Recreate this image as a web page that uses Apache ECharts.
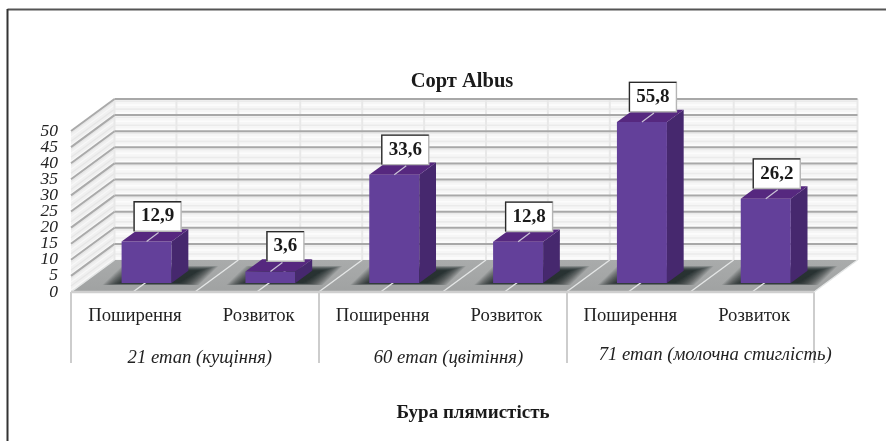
<!DOCTYPE html>
<html><head><meta charset="utf-8">
<style>html,body{margin:0;padding:0;background:#fff}#c{width:886px;height:441px}</style>
<script src="https://cdn.jsdelivr.net/npm/echarts@6/dist/echarts.min.js"></script>
</head><body><div id="c"></div>
<script>
const categories = ['Поширення','Розвиток','Поширення','Розвиток','Поширення','Розвиток'];
const stages = ['21 етап (кущіння)','60 етап (цвітіння)','71 етап (молочна стиглість)'];
const values = [12.9,3.6,33.6,12.8,55.8,26.2];
const valueLabels = ['12,9','3,6','33,6','12,8','55,8','26,2'];
const yTicks = [0,5,10,15,20,25,30,35,40,45,50];
const titleText = 'Сорт Albus';
const axisTitle = 'Бура плямистість';

const SERIF = '"Liberation Serif","Times New Roman",serif';
const DEPTH = [43.5,-32];           // full floor depth vector, px
const BAR_FRONT = 0.28, BAR_BACK = 0.665, BAR_W = 50, BAR_SHIFT = 1.5;
const AXIS_MAX = yTicks[yTicks.length-1];
const chart = echarts.init(document.getElementById('c'), null, {renderer:'canvas'});

function line(p,q,color,w){
  return {type:'line',shape:{x1:p[0],y1:p[1],x2:q[0],y2:q[1]},style:{stroke:color,lineWidth:w},silent:true};
}
function poly(pts,style){return {type:'polygon',shape:{points:pts},style:style,silent:true};}
function depth(p,d){return [p[0]+DEPTH[0]*d,p[1]+DEPTH[1]*d];}

function renderWalls(params,api){
  if(params.dataIndex!==0) return;
  const n=categories.length, kids=[];
  const A=(c,v)=>api.coord([c,v]);
  const band=api.size([1,0])[0];
  const L=v=>[A(0,v)[0]-band/2,A(0,v)[1]];
  const R=v=>[A(n-1,v)[0]+band/2,A(n-1,v)[1]];
  const top=AXIS_MAX;
  // walls
  kids.push(poly([L(0),L(top),depth(L(top),1),depth(L(0),1)],{fill:'#f0f0f0'}));
  kids.push(poly([depth(L(0),1),depth(L(top),1),depth(R(top),1),depth(R(0),1)],{fill:'#f6f6f6'}));
  // fine stripes on the walls
  for(let v=0;v<top;v+=1.25){
    const odd=(v/1.25)%2;
    kids.push(line(depth(L(v+0.6),1),depth(R(v+0.6),1),odd?'#ebebeb':'#fcfcfc',1.6));
    kids.push(line(L(v+0.6),depth(L(v+0.6),1),odd?'#e6e6e6':'#f8f8f8',1.2));
  }
  // vertical wall lines
  for(let i=0;i<=2*n;i++){
    const x=L(0)[0]+i*band/2;
    kids.push(line(depth([x,L(0)[1]],1),depth([x,L(top)[1]],1),'#e8e8e8',2));
  }
  // grid lines
  yTicks.slice(1).forEach(v=>{
    kids.push(line(L(v),depth(L(v),1),'#aaaaaa',2));
    kids.push(line(depth(L(v),1),depth(R(v),1),'#a8a8a8',2));
  });
  // floor
  kids.push(poly([L(0),R(0),depth(R(0),1),depth(L(0),1)],{
    fill:new echarts.graphic.LinearGradient(0,0,0,1,[{offset:0,color:'#a9abab'},{offset:1,color:'#a0a2a2'}])}));
  // soft shadows of the bars on the floor (stacked translucent layers)
  for(let i=0;i<n;i++){
    const c=A(i,0), cx=c[0]+BAR_SHIFT;
    for(let k=16;k>=0;k--){
      const ex=k*1.25, fy=k*0.13, by=k*0.3;
      const x0=cx-BAR_W/2+1-ex, x1=cx+BAR_W/2+7+ex;
      const a=depth([x0,c[1]+fy],BAR_FRONT), b=depth([x1,c[1]+fy],BAR_FRONT);
      const e=depth([x1+3,c[1]-by],BAR_BACK), f=depth([x0+3,c[1]-by],BAR_BACK);
      kids.push(poly([a,b,e,f],{fill:'rgba(15,18,18,0.085)'}));
    }
  }
  // floor lines
  for(let i=0;i<=2*n;i++){
    const x=L(0)[0]+i*band/2, p=[x,L(0)[1]];
    kids.push(line(p,depth(p,1),'#e4e6e6',1.4));
  }
  kids.push(line(L(0),R(0),'#cfcfcf',2.4));
  return {type:'group',children:kids};
}

function renderBar(params,api){
  const c=api.coord([api.value(0),0]);
  // bars are cut off at the top of the value axis
  const t=api.coord([api.value(0),Math.min(api.value(1),AXIS_MAX)]);
  const x0=c[0]-BAR_W/2+BAR_SHIFT, x1=c[0]+BAR_W/2+BAR_SHIFT;
  const fb=depth([x0,c[1]],BAR_FRONT), fr=depth([x1,c[1]],BAR_FRONT);
  const tl=depth([x0,t[1]],BAR_FRONT), tr=depth([x1,t[1]],BAR_FRONT);
  const s=BAR_BACK-BAR_FRONT;
  const btl=depth(tl,s), btr=depth(tr,s), bbr=depth(fr,s);
  const txt=valueLabels[params.dataIndex];
  const w=txt.length>3?47:37, h=29.5;
  const mid=[(tl[0]+tr[0])/2,tl[1]];
  const cx=mid[0]+(txt.length>3?11:15), cy=mid[1]-25;
  const bx=cx-w/2, by=cy-h/2;
  return {type:'group',children:[
    poly([fb,fr,tr,tl],{fill:'#63409a'}),
    poly([fr,bbr,btr,tr],{fill:'#46286e'}),
    poly([tl,tr,btr,btl],{fill:'#56287f'}),
    line(mid,[mid[0]+12,mid[1]-9],'#c9c3d6',1.2),
    {type:'rect',shape:{x:bx,y:by,width:w,height:h},style:{fill:'#fff',stroke:'#b5b5b5',lineWidth:1.4},silent:true},
    {type:'polyline',shape:{points:[[bx,by+h],[bx,by],[bx+w,by]]},style:{fill:'none',stroke:'#2a2a2a',lineWidth:1.3},silent:true},
    {type:'text',style:{x:cx,y:cy,text:txt,align:'center',verticalAlign:'middle',
      font:'bold 19px '+SERIF,fill:'#1a1a1a'},silent:true}
  ]};
}

const labelFont = {fontFamily:SERIF,fontSize:18.7,color:'#222'};
const stageFont = {fontFamily:SERIF,fontStyle:'italic',fontSize:18.7,color:'#222'};
const tickFont = {fontFamily:SERIF,fontStyle:'italic',fontSize:17.5,color:'#222'};
// two overlaid value axes with alternating ticks, so that no tick label is dropped as overlapping
const yAxisWith = ticks => ({type:'value',min:0,max:AXIS_MAX,interval:5,position:'left',
  axisLine:{show:false},axisTick:{show:false},splitLine:{show:false},
  axisLabel:{margin:13,...tickFont,customValues:ticks,showMinLabel:true,showMaxLabel:true}});
chart.setOption({
  animation:false,
  backgroundColor:'#fff',
  title:[
    {text:titleText,left:457,top:66,textAlign:'center',textStyle:{fontFamily:SERIF,fontWeight:'bold',fontSize:20.5,color:'#1a1a1a'}},
    {text:axisTitle,left:468,top:399,textAlign:'center',textStyle:{fontFamily:SERIF,fontWeight:'bold',fontSize:19,color:'#1a1a1a'}}
  ],
  grid:{left:71,top:131,width:743,height:161,containLabel:false},
  xAxis:[
    {type:'category',data:categories,position:'bottom',axisLine:{show:false},axisTick:{show:false},
     axisLabel:{interval:0,margin:15,...labelFont,
       formatter:v=>'{a|'+v+'}',rich:{a:{padding:[0,0,0,4],...labelFont}}}},
    {type:'category',data:stages,position:'bottom',axisLine:{show:false},
     axisTick:{show:true,length:71,lineStyle:{color:'#bdbdbd',width:1.5}},
     axisLabel:{interval:0,margin:54,...stageFont,
       formatter:(v,i)=>'{s'+i+'|'+v+'}',
       rich:{
         s0:{padding:[3,0,0,10],...stageFont},
         s1:{padding:[3,0,0,12],...stageFont},
         s2:{padding:[0,0,3,50],...stageFont}
       }}}
  ],
  yAxis:[
    yAxisWith(yTicks.filter((_,i)=>i%2===0)),
    yAxisWith(yTicks.filter((_,i)=>i%2===1))
  ],
  series:[
    {type:'custom',xAxisIndex:0,yAxisIndex:0,z:1,clip:false,renderItem:renderWalls,encode:{x:0,y:1},data:values.map((v,i)=>[i,Math.min(v,AXIS_MAX)])},
    {type:'custom',xAxisIndex:0,yAxisIndex:0,z:2,clip:false,renderItem:renderBar,encode:{x:0,y:1},data:values.map((v,i)=>[i,Math.min(v,AXIS_MAX)])}
  ],
  graphic:[
    {type:'line',z:10,shape:{x1:7.5,y1:9.5,x2:886,y2:9.5},style:{stroke:'#555',lineWidth:2}},
    {type:'line',z:10,shape:{x1:7.5,y1:9,x2:7.5,y2:441},style:{stroke:'#333',lineWidth:2}}
  ]
});
</script></body></html>
